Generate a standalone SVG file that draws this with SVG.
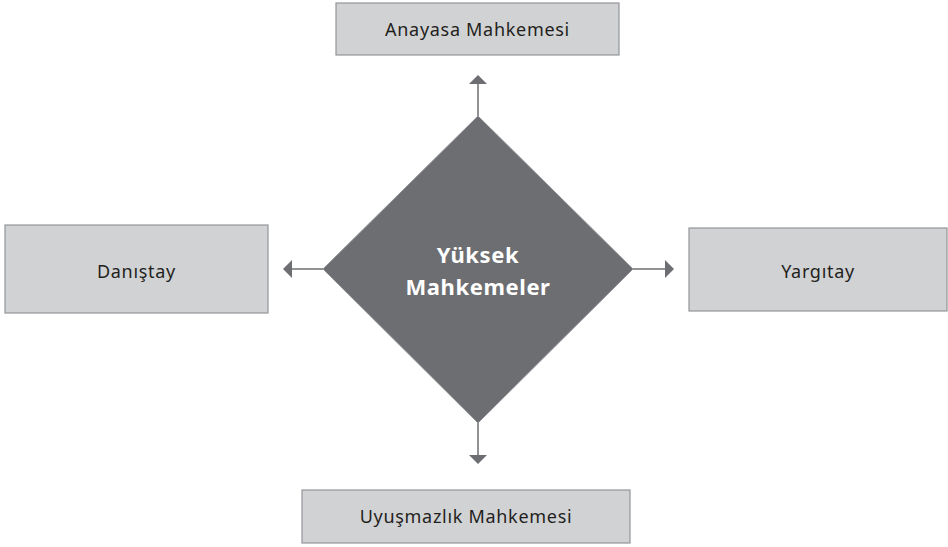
<svg xmlns="http://www.w3.org/2000/svg" width="948" height="547" viewBox="0 0 948 547">
<style>
.box{fill:#d1d2d4;stroke:#939598;stroke-width:1.2}
.lbl{font-family:"Noto Sans","Liberation Sans",sans-serif;font-size:18px;letter-spacing:0.7px;fill:#231f20;text-anchor:middle}
.ctr{font-family:"Noto Sans","Liberation Sans",sans-serif;font-size:22px;letter-spacing:0.6px;font-weight:bold;fill:#ffffff;text-anchor:middle}
.con{stroke:#6d6e71;stroke-width:1.5;fill:none}
.head{fill:#6d6e71}
</style>
<rect width="948" height="547" fill="#ffffff"/>
<g id="connectors">
<line class="con" x1="478" y1="116" x2="478" y2="83"/>
<polygon class="head" points="469,84 487,84 478,75"/>
<line class="con" x1="323" y1="269" x2="291" y2="269"/>
<polygon class="head" points="292,260 292,278 283,269"/>
<line class="con" x1="633" y1="269" x2="666" y2="269"/>
<polygon class="head" points="665,260 665,278 674,269"/>
<line class="con" x1="478" y1="423" x2="478" y2="456"/>
<polygon class="head" points="469,455 487,455 478,464"/>
</g>
<g id="center">
<polygon points="478,116 633,269 478,423 323,269" fill="#6d6e71" stroke="#939598" stroke-width="1"/>
<text class="ctr" x="478" y="263">Yüksek</text>
<text class="ctr" x="478" y="295">Mahkemeler</text>
</g>
<g id="anayasa">
<rect class="box" x="336" y="3" width="283" height="52"/>
<text class="lbl" x="477.5" y="36">Anayasa Mahkemesi</text>
</g>
<g id="danistay">
<rect class="box" x="5" y="225" width="263" height="88"/>
<text class="lbl" x="136.5" y="278">Danıştay</text>
</g>
<g id="yargitay">
<rect class="box" x="689" y="228" width="258" height="83"/>
<text class="lbl" x="818" y="278">Yargıtay</text>
</g>
<g id="uyusmazlik">
<rect class="box" x="302" y="490" width="328" height="53"/>
<text class="lbl" x="466" y="523">Uyuşmazlık Mahkemesi</text>
</g>
</svg>
